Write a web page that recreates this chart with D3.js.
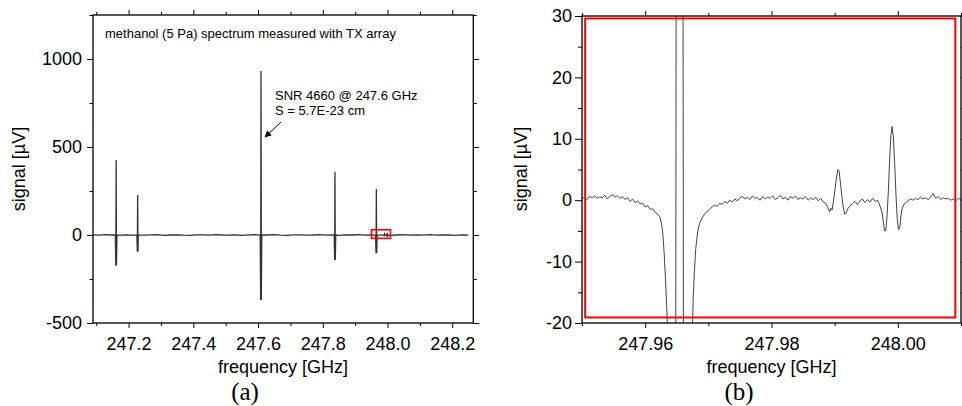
<!DOCTYPE html>
<html>
<head>
<meta charset="utf-8">
<script src="https://cdn.jsdelivr.net/npm/d3@7"></script>
<style>
  body { margin: 0; background: #fff; }
  text { font-family: "Liberation Sans", Arial, sans-serif; fill: #000; }
</style>
</head>
<body>
<svg id="chart" width="962" height="406"></svg>
<script>
// ---- data ----
// panel (a): methanol lines, positive centre and negative side lobes [uV]
const lineFreq = [247.1615, 247.228, 247.609, 247.8376, 247.9655, 247.9907, 247.9991];
const linePeak = [426, 227, 932, 360, 262, 5, 12];
const lineDip  = [-174, -95, -370, -142, -103, -2.4, -5];

// panel (a): baseline noise, one reading every 0.02 GHz from 247.09
const baseNoise = [1, -1, 2, 0, -2, 1, -1, 2, -1, 1, 2, -2, 0, 1, -1, -2, 1, 1, -1, 2,
  0, -1, 1, -2, 1, 2, -1, 0, 2, -1, -2, 1, 1, -1, 0, 2, -1, 1, -2, 1,
  0, 2, -1, 1, -1, 1, -2, 0, 2, -1, 1, -1, 2, -1, 0, 1, -2, 1, -1, 1];

// panel (b): zoomed trace [GHz, uV]
const zoomTrace = [
  [247.9500, 0.2], [247.9504, 0.5], [247.9508, 0.1], [247.9512, 0.6], [247.9516, 0.4],
  [247.9520, 0.7], [247.9524, 0.3], [247.9528, 0.5], [247.9532, 0.4], [247.9536, 0.8],
  [247.9540, 0.2], [247.9544, 0.6], [247.9548, 0.9], [247.9552, 0.5], [247.9556, 0.7],
  [247.9560, 0.3], [247.9564, 0.6], [247.9568, 0.1], [247.9572, 0.4], [247.9576, -0.2],
  [247.9580, 0.2], [247.9584, -0.4], [247.9588, -0.1], [247.9592, -0.6], [247.9596, -0.5],
  [247.9600, -1.1], [247.9604, -0.9], [247.9608, -1.5], [247.9612, -1.4], [247.9616, -2.0],
  [247.9620, -2.3], [247.9623, -2.7], [247.9626, -3.8], [247.9628, -5.5], [247.9630, -8.5],
  [247.9632, -12.5], [247.9634, -17], [247.9636, -23], [247.9640, -60], [247.9645, -103],
  [247.9648, -60], [247.9650, 120], [247.9655, 262], [247.9659, 120], [247.9661, -60],
  [247.9665, -103], [247.9670, -60], [247.9674, -24], [247.9676, -16], [247.9678, -11.5],
  [247.9680, -8], [247.9683, -5.2], [247.9686, -3.8], [247.9690, -2.9], [247.9694, -2.3],
  [247.9698, -1.8], [247.9702, -1.5], [247.9706, -1.1], [247.9710, -0.8], [247.9714, -1.0],
  [247.9718, -0.5], [247.9722, -0.7], [247.9726, -0.2], [247.9730, -0.5], [247.9734, 0.0],
  [247.9738, -0.3], [247.9742, 0.2], [247.9746, -0.1], [247.9750, 0.4], [247.9754, 0.6],
  [247.9758, 0.2], [247.9762, 0.5], [247.9766, 0.1], [247.9770, 0.7], [247.9774, 0.3],
  [247.9778, 0.4], [247.9782, 0.0], [247.9786, 0.6], [247.9790, 0.2], [247.9794, 0.5],
  [247.9798, 0.3], [247.9802, 0.7], [247.9806, 0.1], [247.9810, 0.4], [247.9814, 0.8],
  [247.9818, 0.2], [247.9822, 0.5], [247.9826, 0.0], [247.9830, 0.6], [247.9834, 0.3],
  [247.9838, 0.7], [247.9842, 0.1], [247.9846, 0.4], [247.9850, 0.2], [247.9854, 0.6],
  [247.9858, 0.0], [247.9862, 0.4], [247.9866, 0.1], [247.9870, 0.5], [247.9874, -0.1],
  [247.9878, 0.3], [247.9882, -0.3], [247.9886, -0.5], [247.9889, -1.2], [247.9892, -1.9],
  [247.9894, -1.3], [247.9896, -1.6], [247.9899, 0.5], [247.9902, 3.0], [247.9905, 5.0],
  [247.9907, 4.8], [247.9910, 2.0], [247.9913, -0.8], [247.9916, -2.3], [247.9918, -2.1],
  [247.9921, -1.4], [247.9924, -0.9], [247.9928, -0.6], [247.9932, -0.2], [247.9936, -0.7],
  [247.9940, -0.1], [247.9944, 0.2], [247.9948, -0.4], [247.9952, 0.1], [247.9956, -0.3],
  [247.9960, 0.3], [247.9964, -0.2], [247.9968, 0.0], [247.9972, -1.0], [247.9975, -2.0],
  [247.9977, -3.5], [247.9979, -5.0], [247.9981, -4.9], [247.9983, -2.5], [247.9985, 1.5],
  [247.9987, 6.5], [247.9989, 10.5], [247.9991, 12.0], [247.9993, 10.3], [247.9995, 6.0],
  [247.9997, 1.0], [247.9999, -3.0], [248.0001, -4.8], [248.0003, -4.6], [248.0005, -2.5],
  [248.0007, -1.3], [248.0010, -0.6], [248.0013, -0.4], [248.0016, -0.1], [248.0020, 0.2],
  [248.0024, 0.0], [248.0028, 0.3], [248.0032, 0.1], [248.0036, 0.5], [248.0040, 0.2],
  [248.0044, 0.4], [248.0048, 0.1], [248.0052, 0.5], [248.0056, 1.1], [248.0060, 0.3],
  [248.0064, 0.6], [248.0068, 0.1], [248.0072, 0.4], [248.0076, 0.2], [248.0080, 0.3],
  [248.0084, 0.0], [248.0088, 0.2], [248.0092, -0.1], [248.0096, 0.3], [248.0100, 0.1]
];

// zoom window (drawn red in both panels)
const boxFreq = [247.9505, 248.0091];
const boxSignal = [-19.1, 29.6];

// ticks
const xTicksA = [247.2, 247.4, 247.6, 247.8, 248.0, 248.2];
const xMinorA = [247.1, 247.3, 247.5, 247.7, 247.9, 248.1];
const yTicksA = [-500, 0, 500, 1000];
const yMinorA = [-250, 250, 750, 1250];
const xTicksB = [247.96, 247.98, 248.00];
const xMinorB = [247.95, 247.97, 247.99, 248.01];
const yTicksB = [-20, -10, 0, 10, 20, 30];
const yMinorB = [-15, -5, 5, 15, 25];

const svg = d3.select('#chart');

// ---- helper: framed panel with ticks on all four sides ----
function panel(x, y, opt) {
  const [x0, x1] = x.range();
  const [y0, y1] = y.range(); // y0 bottom, y1 top
  const g = svg.append('g');

  const axes = [
    [d3.axisBottom, x, `translate(0,${y0})`, opt.xTicks, opt.xMinor, opt.xFmt, opt.xPad, false],
    [d3.axisTop, x, `translate(0,${y1})`, opt.xTicks, opt.xMinor, null, 3, false],
    [d3.axisLeft, y, `translate(${x0},0)`, opt.yTicks, opt.yMinor, d => String(d), opt.yPad, true],
    [d3.axisRight, y, `translate(${x1},0)`, opt.yTicks, opt.yMinor, null, 3, true]
  ];
  axes.forEach(([axis, scale, tr, major, minor, fmt, pad, vertical]) => {
    g.append('g').attr('transform', tr)
      .call(axis(scale).tickValues(minor).tickSize(vertical ? opt.minorY : 3).tickFormat(''));
    g.append('g').attr('transform', tr)
      .call(axis(scale).tickValues(major).tickSize(vertical ? opt.majorY : 5)
        .tickPadding(pad).tickFormat(fmt || (() => '')));
  });
  g.selectAll('.domain').remove();
  g.selectAll('.tick line').attr('stroke', '#000').attr('stroke-width', 1);
  g.selectAll('.tick text').attr('fill', '#000').style('font-size', '18px')
    .style('font-family', '"Liberation Sans", Arial, sans-serif');

  g.append('rect')
    .attr('x', x0).attr('y', y1)
    .attr('width', x1 - x0).attr('height', y0 - y1)
    .attr('fill', 'none').attr('stroke', '#111').attr('stroke-width', 1.4);
  return g;
}

// ---- panel (a) ----
const xA = d3.scaleLinear().domain([247.09, 248.265]).range([93, 473.3]);
const yA = d3.scaleLinear().domain([-500, 1250]).range([323, 15]);

// build the full spectrum from baseline readings and the line shapes
const specA = [];
baseNoise.forEach((v, i) => {
  const f = 247.09 + i * 0.02;
  if (f <= 248.265) specA.push([f, v]);
});
lineFreq.forEach((f, i) => {
  specA.push([f - 0.0025, 0], [f - 0.001, lineDip[i]], [f, linePeak[i]],
             [f + 0.001, lineDip[i]], [f + 0.0025, 0]);
});
specA.sort((a, b) => a[0] - b[0]);

svg.append('path')
  .datum(specA)
  .attr('fill', 'none')
  .attr('stroke', '#333')
  .attr('stroke-width', 1.3)
  .attr('d', d3.line().x(d => xA(d[0])).y(d => yA(d[1])));

panel(xA, yA, {
  xTicks: xTicksA, xMinor: xMinorA, xFmt: d3.format('.1f'), xPad: 9,
  yTicks: yTicksA, yMinor: yMinorA, yPad: 5, majorY: 6, minorY: 3.5
});

svg.append('rect')
  .attr('x', xA(boxFreq[0])).attr('y', yA(boxSignal[1]))
  .attr('width', xA(boxFreq[1]) - xA(boxFreq[0]))
  .attr('height', yA(boxSignal[0]) - yA(boxSignal[1]))
  .attr('fill', 'none').attr('stroke', '#f00').attr('stroke-width', 1.6);

// annotations
svg.append('text').attr('x', 105).attr('y', 38).style('font-size', '13px')
  .text('methanol (5 Pa) spectrum measured with TX array');
svg.append('text').attr('x', 275).attr('y', 99.5).style('font-size', '13px')
  .text('SNR 4660 @ 247.6 GHz');
svg.append('text').attr('x', 275).attr('y', 114.5).style('font-size', '13px')
  .text('S = 5.7E-23 cm');

svg.append('defs').append('marker')
  .attr('id', 'head').attr('viewBox', '0 0 10 10')
  .attr('refX', 9).attr('refY', 5)
  .attr('markerWidth', 7).attr('markerHeight', 7)
  .attr('markerUnits', 'userSpaceOnUse')
  .attr('orient', 'auto')
  .append('path').attr('d', 'M0,0 L10,5 L0,10 z').attr('fill', '#000');
svg.append('line')
  .attr('x1', 281).attr('y1', 122).attr('x2', 265).attr('y2', 137)
  .attr('stroke', '#000').attr('stroke-width', 1)
  .attr('marker-end', 'url(#head)');

svg.append('text').attr('x', 283).attr('y', 373).attr('text-anchor', 'middle')
  .style('font-size', '18px').text('frequency [GHz]');
svg.append('text').attr('transform', 'translate(25,169) rotate(-90)')
  .attr('text-anchor', 'middle').style('font-size', '18px').text('signal [µV]');
svg.append('text').attr('x', 245).attr('y', 400).attr('text-anchor', 'middle')
  .style('font-family', '"Liberation Serif", "Times New Roman", serif')
  .style('font-size', '25px').text('(a)');

// ---- panel (b) ----
const xB = d3.scaleLinear().domain([247.95, 248.01]).range([582, 961]);
const yB = d3.scaleLinear().domain([-20, 30]).range([323, 16]);

svg.append('clipPath').attr('id', 'clipB')
  .append('rect').attr('x', 582).attr('y', 16).attr('width', 379).attr('height', 307);

svg.append('path')
  .datum(zoomTrace)
  .attr('clip-path', 'url(#clipB)')
  .attr('fill', 'none')
  .attr('stroke', '#444')
  .attr('stroke-width', 1)
  .attr('d', d3.line().x(d => xB(d[0])).y(d => yB(d[1])));

panel(xB, yB, {
  xTicks: xTicksB, xMinor: xMinorB, xFmt: d3.format('.2f'), xPad: 9,
  yTicks: yTicksB, yMinor: yMinorB, yPad: 3, majorY: 7, minorY: 4
});

svg.append('rect')
  .attr('x', xB(boxFreq[0])).attr('y', yB(boxSignal[1]))
  .attr('width', xB(boxFreq[1]) - xB(boxFreq[0]))
  .attr('height', yB(boxSignal[0]) - yB(boxSignal[1]))
  .attr('fill', 'none').attr('stroke', '#f00').attr('stroke-width', 2);

svg.append('text').attr('x', 771.5).attr('y', 373).attr('text-anchor', 'middle')
  .style('font-size', '18px').text('frequency [GHz]');
svg.append('text').attr('transform', 'translate(527,169) rotate(-90)')
  .attr('text-anchor', 'middle').style('font-size', '18px').text('signal [µV]');
svg.append('text').attr('x', 739).attr('y', 400).attr('text-anchor', 'middle')
  .style('font-family', '"Liberation Serif", "Times New Roman", serif')
  .style('font-size', '25px').text('(b)');
</script>
</body>
</html>
